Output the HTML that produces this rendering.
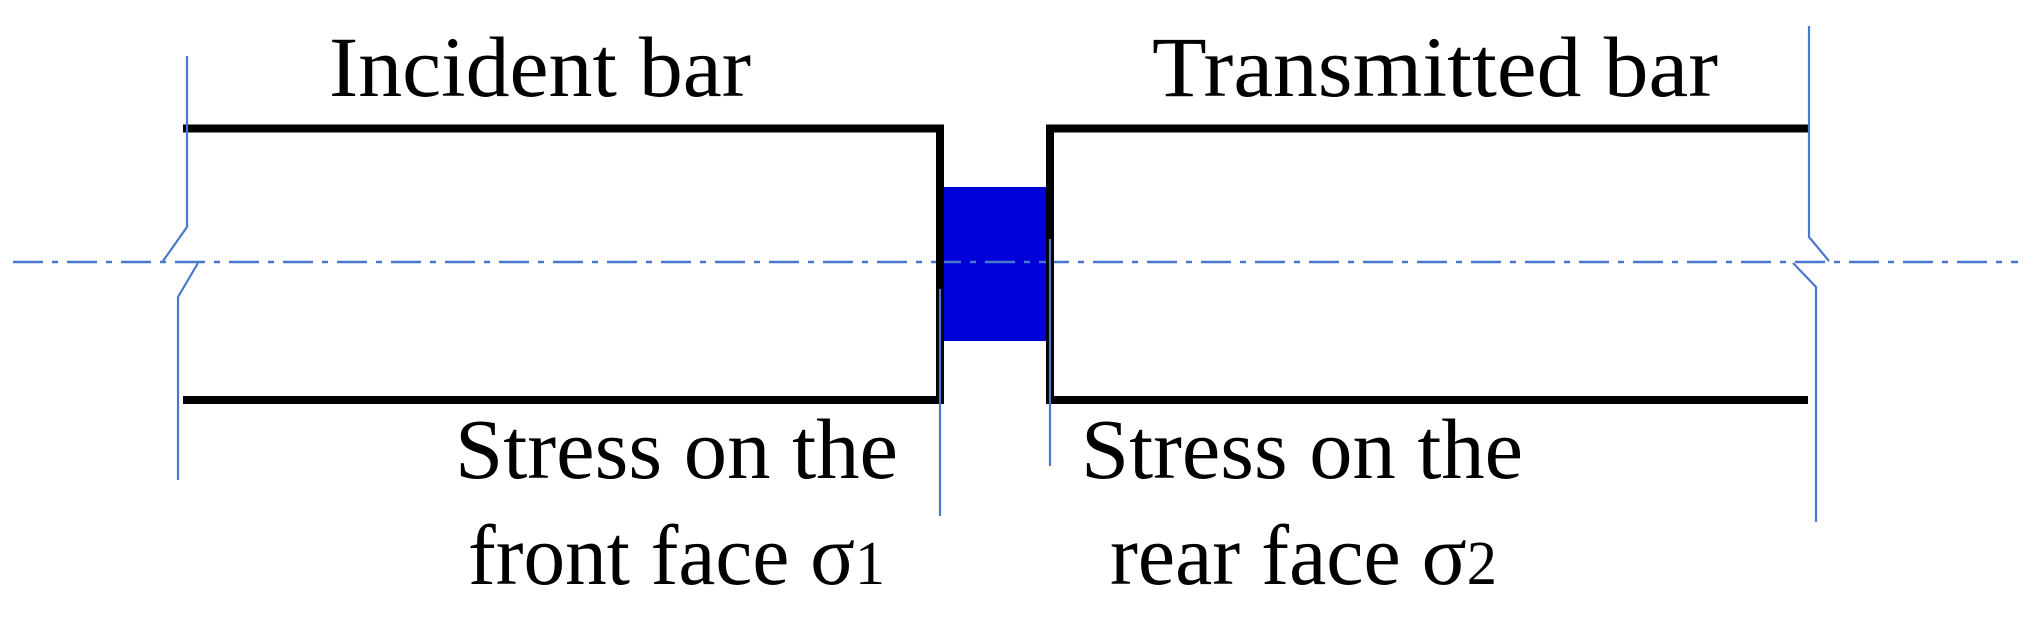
<!DOCTYPE html>
<html><head><meta charset="utf-8"><style>
html,body{margin:0;padding:0;background:#fff;}
svg{display:block;}
text{font-family:"Liberation Serif",serif;font-size:86px;fill:#000;}
</style></head><body>
<svg width="2039" height="629" viewBox="0 0 2039 629" xmlns="http://www.w3.org/2000/svg">
<rect x="940" y="187" width="108" height="154" fill="#0000d8"/>
<line x1="13" y1="262" x2="2018" y2="262" stroke="#4a78cc" stroke-width="2.5" stroke-dasharray="30,9,6,9"/>
<g stroke="#000" stroke-width="8" fill="none">
<polyline points="183,128.5 940,128.5 940,400 183,400"/>
<polyline points="1808,128.5 1050,128.5 1050,400 1808,400"/>
</g>
<g stroke="#4a78cc" stroke-width="2.2" fill="none">
<polyline points="187,56 187,227 163,261"/>
<polyline points="198,263 178,297 178,480"/>
<line x1="940" y1="289" x2="940" y2="516"/>
<line x1="1050" y1="239" x2="1050" y2="466"/>
<polyline points="1809,26 1809,237 1829,261"/>
<polyline points="1793,263 1816,287 1816,522"/>
</g>
<text x="329" y="96" textLength="422" lengthAdjust="spacingAndGlyphs">Incident bar</text>
<text x="1152" y="96" textLength="566" lengthAdjust="spacingAndGlyphs">Transmitted bar</text>
<text x="455" y="478" textLength="443" lengthAdjust="spacingAndGlyphs">Stress on the</text>
<text x="468" y="584" textLength="417" lengthAdjust="spacingAndGlyphs">front face σ<tspan font-size="62">1</tspan></text>
<text x="1081" y="478" textLength="442" lengthAdjust="spacingAndGlyphs">Stress on the</text>
<text x="1110" y="584" textLength="387" lengthAdjust="spacingAndGlyphs">rear face σ<tspan font-size="62">2</tspan></text>
</svg>
</body></html>
